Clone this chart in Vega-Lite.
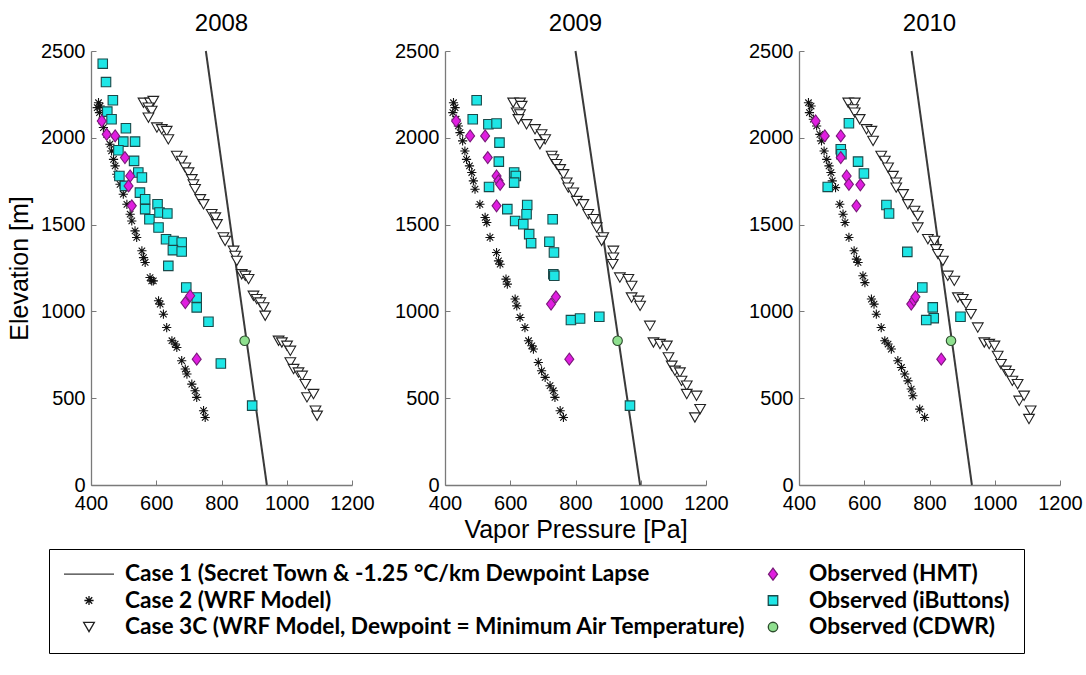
{
  "$schema": "https://vega.github.io/schema/vega-lite/v6.json",
  "padding": {"left": 7, "top": 12, "right": 0, "bottom": 0},
  "background": "white",
  "config": {
    "font": "Liberation Sans",
    "view": {"stroke": null},
    "axis": {
      "grid": false, "domainColor": "#7a7a7a", "domainWidth": 1.3, "tickColor": "#7a7a7a", "tickSize": -5,
      "labelFontSize": 20, "labelColor": "black", "labelFlush": false, "labelOverlap": false, "format": "d",
      "titleFontSize": 25, "titleFontWeight": "normal", "titleColor": "black"
    },
    "axisX": {"labelPadding": 13, "titlePadding": 4},
    "axisY": {"labelPadding": 11, "titlePadding": 8},
    "title": {"fontSize": 24, "fontWeight": "normal", "color": "black", "anchor": "middle", "frame": "group", "offset": 5},
    "legend": {
      "orient": "none", "legendX": -42, "legendY": 498, "columns": 2, "labelFont": "Lato", "labelFontSize": 22.7, "labelFontWeight": "bold",
      "labelColor": "black", "labelLimit": 1000, "strokeColor": "black", "fillColor": "white", "padding": 14,
      "clipHeight": 22, "rowPadding": 3.5, "columnPadding": 0, "labelOffset": 10, "symbolStrokeWidth": 1.3
    }
  },
  "datasets": {
    "d2008": [
      {"series":"c1","vp":939,"elev":0},{"series":"c1","vp":752,"elev":2500},
      {"series":"c2","vp":423,"elev":2202},{"series":"c2","vp":428,"elev":2183},{"series":"c2","vp":419,"elev":2174},{"series":"c2","vp":426,"elev":2145},{"series":"c2","vp":433,"elev":2097},{"series":"c2","vp":438,"elev":2059},{"series":"c2","vp":448,"elev":2020},{"series":"c2","vp":458,"elev":1963},{"series":"c2","vp":463,"elev":1924},{"series":"c2","vp":469,"elev":1876},{"series":"c2","vp":474,"elev":1838},{"series":"c2","vp":479,"elev":1790},{"series":"c2","vp":489,"elev":1732},{"series":"c2","vp":499,"elev":1675},{"series":"c2","vp":510,"elev":1617},{"series":"c2","vp":520,"elev":1560},{"series":"c2","vp":525,"elev":1521},{"series":"c2","vp":535,"elev":1464},{"series":"c2","vp":540,"elev":1426},{"series":"c2","vp":556,"elev":1349},{"series":"c2","vp":561,"elev":1310},{"series":"c2","vp":566,"elev":1282},{"series":"c2","vp":581,"elev":1195},{"series":"c2","vp":586,"elev":1176},{"series":"c2","vp":591,"elev":1176},{"series":"c2","vp":607,"elev":1061},{"series":"c2","vp":612,"elev":1042},{"series":"c2","vp":622,"elev":984},{"series":"c2","vp":632,"elev":907},{"series":"c2","vp":648,"elev":831},{"series":"c2","vp":658,"elev":812},{"series":"c2","vp":663,"elev":792},{"series":"c2","vp":678,"elev":716},{"series":"c2","vp":689,"elev":668},{"series":"c2","vp":694,"elev":639},{"series":"c2","vp":709,"elev":581},{"series":"c2","vp":719,"elev":543},{"series":"c2","vp":724,"elev":505},{"series":"c2","vp":745,"elev":428},{"series":"c2","vp":750,"elev":389},
      {"series":"c3","vp":561,"elev":2202},{"series":"c3","vp":581,"elev":2202},{"series":"c3","vp":591,"elev":2212},{"series":"c3","vp":576,"elev":2174},{"series":"c3","vp":586,"elev":2155},{"series":"c3","vp":576,"elev":2116},{"series":"c3","vp":602,"elev":2059},{"series":"c3","vp":617,"elev":2049},{"series":"c3","vp":632,"elev":2039},{"series":"c3","vp":637,"elev":1991},{"series":"c3","vp":663,"elev":1896},{"series":"c3","vp":678,"elev":1867},{"series":"c3","vp":689,"elev":1828},{"series":"c3","vp":699,"elev":1800},{"series":"c3","vp":709,"elev":1761},{"series":"c3","vp":714,"elev":1732},{"series":"c3","vp":719,"elev":1704},{"series":"c3","vp":735,"elev":1646},{"series":"c3","vp":745,"elev":1617},{"series":"c3","vp":770,"elev":1560},{"series":"c3","vp":781,"elev":1541},{"series":"c3","vp":786,"elev":1502},{"series":"c3","vp":806,"elev":1426},{"series":"c3","vp":811,"elev":1406},{"series":"c3","vp":837,"elev":1349},{"series":"c3","vp":842,"elev":1320},{"series":"c3","vp":847,"elev":1291},{"series":"c3","vp":862,"elev":1214},{"series":"c3","vp":873,"elev":1205},{"series":"c3","vp":883,"elev":1186},{"series":"c3","vp":898,"elev":1090},{"series":"c3","vp":908,"elev":1071},{"series":"c3","vp":919,"elev":1051},{"series":"c3","vp":929,"elev":1023},{"series":"c3","vp":934,"elev":975},{"series":"c3","vp":975,"elev":831},{"series":"c3","vp":985,"elev":821},{"series":"c3","vp":1001,"elev":802},{"series":"c3","vp":1011,"elev":773},{"series":"c3","vp":1011,"elev":706},{"series":"c3","vp":1021,"elev":668},{"series":"c3","vp":1036,"elev":648},{"series":"c3","vp":1047,"elev":629},{"series":"c3","vp":1057,"elev":581},{"series":"c3","vp":1062,"elev":505},{"series":"c3","vp":1082,"elev":524},{"series":"c3","vp":1088,"elev":428},{"series":"c3","vp":1093,"elev":399},
      {"series":"ib","vp":436,"elev":2427},{"series":"ib","vp":446,"elev":2321},{"series":"ib","vp":467,"elev":2216},{"series":"ib","vp":450,"elev":2151},{"series":"ib","vp":463,"elev":2107},{"series":"ib","vp":507,"elev":2055},{"series":"ib","vp":499,"elev":1978},{"series":"ib","vp":535,"elev":1978},{"series":"ib","vp":484,"elev":1928},{"series":"ib","vp":532,"elev":1867},{"series":"ib","vp":545,"elev":1800},{"series":"ib","vp":487,"elev":1780},{"series":"ib","vp":556,"elev":1771},{"series":"ib","vp":504,"elev":1723},{"series":"ib","vp":550,"elev":1684},{"series":"ib","vp":566,"elev":1646},{"series":"ib","vp":566,"elev":1589},{"series":"ib","vp":579,"elev":1531},{"series":"ib","vp":604,"elev":1617},{"series":"ib","vp":610,"elev":1570},{"series":"ib","vp":634,"elev":1564},{"series":"ib","vp":607,"elev":1483},{"series":"ib","vp":630,"elev":1416},{"series":"ib","vp":653,"elev":1406},{"series":"ib","vp":678,"elev":1397},{"series":"ib","vp":651,"elev":1353},{"series":"ib","vp":678,"elev":1345},{"series":"ib","vp":637,"elev":1262},{"series":"ib","vp":692,"elev":1138},{"series":"ib","vp":724,"elev":1080},{"series":"ib","vp":724,"elev":1023},{"series":"ib","vp":760,"elev":940},{"series":"ib","vp":798,"elev":700},{"series":"ib","vp":894,"elev":457},
      {"series":"hmt","vp":433,"elev":2097},{"series":"hmt","vp":448,"elev":2020},{"series":"hmt","vp":474,"elev":2011},{"series":"hmt","vp":504,"elev":1886},{"series":"hmt","vp":520,"elev":1780},{"series":"hmt","vp":515,"elev":1723},{"series":"hmt","vp":525,"elev":1608},{"series":"hmt","vp":689,"elev":1051},{"series":"hmt","vp":704,"elev":1090},{"series":"hmt","vp":724,"elev":725},
      {"series":"cdwr","vp":871,"elev":831}
    ],
    "d2009": [
      {"series":"c1","vp":998,"elev":0},{"series":"c1","vp":800,"elev":2500},
      {"series":"c2","vp":426,"elev":2202},{"series":"c2","vp":431,"elev":2174},{"series":"c2","vp":424,"elev":2145},{"series":"c2","vp":434,"elev":2107},{"series":"c2","vp":441,"elev":2068},{"series":"c2","vp":446,"elev":2030},{"series":"c2","vp":454,"elev":1982},{"series":"c2","vp":461,"elev":1924},{"series":"c2","vp":466,"elev":1876},{"series":"c2","vp":475,"elev":1838},{"series":"c2","vp":482,"elev":1800},{"series":"c2","vp":487,"elev":1752},{"series":"c2","vp":492,"elev":1704},{"series":"c2","vp":507,"elev":1617},{"series":"c2","vp":523,"elev":1541},{"series":"c2","vp":528,"elev":1512},{"series":"c2","vp":538,"elev":1426},{"series":"c2","vp":558,"elev":1339},{"series":"c2","vp":564,"elev":1291},{"series":"c2","vp":569,"elev":1272},{"series":"c2","vp":587,"elev":1186},{"series":"c2","vp":591,"elev":1157},{"series":"c2","vp":615,"elev":1071},{"series":"c2","vp":620,"elev":1032},{"series":"c2","vp":630,"elev":965},{"series":"c2","vp":645,"elev":907},{"series":"c2","vp":656,"elev":831},{"series":"c2","vp":666,"elev":802},{"series":"c2","vp":671,"elev":783},{"series":"c2","vp":686,"elev":706},{"series":"c2","vp":696,"elev":658},{"series":"c2","vp":707,"elev":620},{"series":"c2","vp":722,"elev":572},{"series":"c2","vp":732,"elev":543},{"series":"c2","vp":737,"elev":505},{"series":"c2","vp":753,"elev":428},{"series":"c2","vp":763,"elev":389},
      {"series":"c3","vp":609,"elev":2202},{"series":"c3","vp":630,"elev":2202},{"series":"c3","vp":635,"elev":2183},{"series":"c3","vp":620,"elev":2145},{"series":"c3","vp":630,"elev":2135},{"series":"c3","vp":625,"elev":2107},{"series":"c3","vp":650,"elev":2078},{"series":"c3","vp":676,"elev":2049},{"series":"c3","vp":696,"elev":2020},{"series":"c3","vp":707,"elev":1991},{"series":"c3","vp":691,"elev":1963},{"series":"c3","vp":727,"elev":1896},{"series":"c3","vp":732,"elev":1876},{"series":"c3","vp":742,"elev":1848},{"series":"c3","vp":753,"elev":1819},{"series":"c3","vp":763,"elev":1790},{"series":"c3","vp":773,"elev":1742},{"series":"c3","vp":778,"elev":1713},{"series":"c3","vp":793,"elev":1684},{"series":"c3","vp":804,"elev":1636},{"series":"c3","vp":824,"elev":1617},{"series":"c3","vp":839,"elev":1560},{"series":"c3","vp":855,"elev":1531},{"series":"c3","vp":865,"elev":1483},{"series":"c3","vp":885,"elev":1426},{"series":"c3","vp":880,"elev":1406},{"series":"c3","vp":916,"elev":1349},{"series":"c3","vp":916,"elev":1310},{"series":"c3","vp":914,"elev":1272},{"series":"c3","vp":936,"elev":1195},{"series":"c3","vp":962,"elev":1186},{"series":"c3","vp":972,"elev":1147},{"series":"c3","vp":972,"elev":1080},{"series":"c3","vp":993,"elev":1061},{"series":"c3","vp":998,"elev":1032},{"series":"c3","vp":1028,"elev":917},{"series":"c3","vp":1039,"elev":821},{"series":"c3","vp":1059,"elev":812},{"series":"c3","vp":1080,"elev":802},{"series":"c3","vp":1085,"elev":735},{"series":"c3","vp":1095,"elev":687},{"series":"c3","vp":1105,"elev":658},{"series":"c3","vp":1120,"elev":648},{"series":"c3","vp":1125,"elev":600},{"series":"c3","vp":1141,"elev":572},{"series":"c3","vp":1141,"elev":524},{"series":"c3","vp":1171,"elev":514},{"series":"c3","vp":1182,"elev":437},{"series":"c3","vp":1166,"elev":389},
      {"series":"ib","vp":497,"elev":2216},{"series":"ib","vp":485,"elev":2107},{"series":"ib","vp":533,"elev":2078},{"series":"ib","vp":558,"elev":2082},{"series":"ib","vp":567,"elev":1972},{"series":"ib","vp":565,"elev":1863},{"series":"ib","vp":612,"elev":1800},{"series":"ib","vp":617,"elev":1780},{"series":"ib","vp":612,"elev":1742},{"series":"ib","vp":535,"elev":1717},{"series":"ib","vp":652,"elev":1613},{"series":"ib","vp":591,"elev":1589},{"series":"ib","vp":615,"elev":1521},{"series":"ib","vp":650,"elev":1560},{"series":"ib","vp":640,"elev":1502},{"series":"ib","vp":730,"elev":1531},{"series":"ib","vp":658,"elev":1445},{"series":"ib","vp":664,"elev":1393},{"series":"ib","vp":720,"elev":1401},{"series":"ib","vp":734,"elev":1339},{"series":"ib","vp":732,"elev":1214},{"series":"ib","vp":735,"elev":1205},{"series":"ib","vp":786,"elev":950},{"series":"ib","vp":814,"elev":959},{"series":"ib","vp":873,"elev":969},{"series":"ib","vp":967,"elev":457},
      {"series":"hmt","vp":434,"elev":2097},{"series":"hmt","vp":477,"elev":2011},{"series":"hmt","vp":523,"elev":2011},{"series":"hmt","vp":531,"elev":1886},{"series":"hmt","vp":558,"elev":1780},{"series":"hmt","vp":564,"elev":1752},{"series":"hmt","vp":569,"elev":1732},{"series":"hmt","vp":558,"elev":1608},{"series":"hmt","vp":725,"elev":1042},{"series":"hmt","vp":740,"elev":1084},{"series":"hmt","vp":781,"elev":725},
      {"series":"cdwr","vp":929,"elev":831}
    ],
    "d2010": [
      {"series":"c1","vp":930,"elev":0},{"series":"c1","vp":745,"elev":2500},
      {"series":"c2","vp":429,"elev":2202},{"series":"c2","vp":437,"elev":2183},{"series":"c2","vp":432,"elev":2145},{"series":"c2","vp":444,"elev":2107},{"series":"c2","vp":454,"elev":2068},{"series":"c2","vp":464,"elev":2020},{"series":"c2","vp":469,"elev":1982},{"series":"c2","vp":477,"elev":1924},{"series":"c2","vp":485,"elev":1876},{"series":"c2","vp":492,"elev":1838},{"series":"c2","vp":498,"elev":1800},{"series":"c2","vp":502,"elev":1752},{"series":"c2","vp":512,"elev":1713},{"series":"c2","vp":525,"elev":1617},{"series":"c2","vp":535,"elev":1560},{"series":"c2","vp":541,"elev":1512},{"series":"c2","vp":553,"elev":1426},{"series":"c2","vp":569,"elev":1349},{"series":"c2","vp":576,"elev":1301},{"series":"c2","vp":581,"elev":1282},{"series":"c2","vp":596,"elev":1205},{"series":"c2","vp":602,"elev":1166},{"series":"c2","vp":622,"elev":1071},{"series":"c2","vp":630,"elev":1042},{"series":"c2","vp":637,"elev":984},{"series":"c2","vp":652,"elev":907},{"series":"c2","vp":663,"elev":831},{"series":"c2","vp":673,"elev":812},{"series":"c2","vp":683,"elev":783},{"series":"c2","vp":703,"elev":716},{"series":"c2","vp":714,"elev":677},{"series":"c2","vp":724,"elev":639},{"series":"c2","vp":734,"elev":600},{"series":"c2","vp":744,"elev":553},{"series":"c2","vp":749,"elev":514},{"series":"c2","vp":770,"elev":437},{"series":"c2","vp":785,"elev":389},
      {"series":"c3","vp":551,"elev":2202},{"series":"c3","vp":571,"elev":2202},{"series":"c3","vp":566,"elev":2164},{"series":"c3","vp":571,"elev":2145},{"series":"c3","vp":586,"elev":2107},{"series":"c3","vp":607,"elev":2049},{"series":"c3","vp":622,"elev":2039},{"series":"c3","vp":627,"elev":1982},{"series":"c3","vp":652,"elev":1896},{"series":"c3","vp":663,"elev":1867},{"series":"c3","vp":673,"elev":1828},{"series":"c3","vp":688,"elev":1780},{"series":"c3","vp":698,"elev":1742},{"series":"c3","vp":698,"elev":1713},{"series":"c3","vp":719,"elev":1675},{"series":"c3","vp":734,"elev":1617},{"series":"c3","vp":754,"elev":1579},{"series":"c3","vp":764,"elev":1550},{"series":"c3","vp":764,"elev":1483},{"series":"c3","vp":795,"elev":1416},{"series":"c3","vp":815,"elev":1406},{"series":"c3","vp":820,"elev":1358},{"series":"c3","vp":826,"elev":1330},{"series":"c3","vp":841,"elev":1291},{"series":"c3","vp":856,"elev":1205},{"series":"c3","vp":876,"elev":1176},{"series":"c3","vp":887,"elev":1080},{"series":"c3","vp":902,"elev":1071},{"series":"c3","vp":912,"elev":1042},{"series":"c3","vp":927,"elev":984},{"series":"c3","vp":948,"elev":907},{"series":"c3","vp":968,"elev":821},{"series":"c3","vp":983,"elev":812},{"series":"c3","vp":999,"elev":802},{"series":"c3","vp":1009,"elev":744},{"series":"c3","vp":1019,"elev":696},{"series":"c3","vp":1034,"elev":658},{"series":"c3","vp":1044,"elev":639},{"series":"c3","vp":1054,"elev":600},{"series":"c3","vp":1070,"elev":581},{"series":"c3","vp":1075,"elev":485},{"series":"c3","vp":1090,"elev":514},{"series":"c3","vp":1110,"elev":428},{"series":"c3","vp":1105,"elev":380},
      {"series":"ib","vp":553,"elev":2084},{"series":"ib","vp":528,"elev":1934},{"series":"ib","vp":530,"elev":1905},{"series":"ib","vp":581,"elev":1863},{"series":"ib","vp":599,"elev":1794},{"series":"ib","vp":488,"elev":1717},{"series":"ib","vp":668,"elev":1613},{"series":"ib","vp":676,"elev":1564},{"series":"ib","vp":732,"elev":1343},{"series":"ib","vp":778,"elev":1138},{"series":"ib","vp":810,"elev":1023},{"series":"ib","vp":813,"elev":961},{"series":"ib","vp":790,"elev":950},{"series":"ib","vp":895,"elev":969},
      {"series":"hmt","vp":451,"elev":2097},{"series":"hmt","vp":479,"elev":2011},{"series":"hmt","vp":528,"elev":2011},{"series":"hmt","vp":528,"elev":1886},{"series":"hmt","vp":546,"elev":1780},{"series":"hmt","vp":553,"elev":1732},{"series":"hmt","vp":588,"elev":1729},{"series":"hmt","vp":576,"elev":1608},{"series":"hmt","vp":744,"elev":1042},{"series":"hmt","vp":752,"elev":1065},{"series":"hmt","vp":757,"elev":1084},{"series":"hmt","vp":836,"elev":725},
      {"series":"cdwr","vp":866,"elev":831}
    ]
  },
  "spacing": 93,
  "bounds": "flush",
  "hconcat": [
    {
      "title": "2008", "width": 261, "height": 434,
      "data": {"name": "d2008"},
      "layer": [
        {"transform": [{"filter": "datum.series == 'c1'"}], "mark": {"type": "line", "color": "#3a3a3a", "strokeWidth": 2},
         "encoding": {"x": {"field": "vp", "type": "quantitative", "scale": {"domain": [400, 1200], "nice": false}, "axis": {"values": [400,600,800,1000,1200], "title": null}},
                      "y": {"field": "elev", "type": "quantitative", "scale": {"domain": [0, 2500], "nice": false}, "axis": {"values": [0,500,1000,1500,2000,2500], "title": "Elevation [m]"}}}},
        {"transform": [{"filter": "datum.series != 'c1'"}], "mark": {"type": "point", "opacity": 1, "strokeWidth": 1.1},
         "encoding": {"x": {"field": "vp", "type": "quantitative"}, "y": {"field": "elev", "type": "quantitative"},
           "shape": {"field": "series", "type": "nominal", "title": null, "legend": {"labelExpr": "{'c1':'Case 1 (Secret Town & -1.25 °C/km Dewpoint Lapse','hmt':'Observed (HMT)','c2':'Case 2 (WRF Model)','ib':'Observed (iButtons)','c3':'Case 3C (WRF Model, Dewpoint = Minimum Air Temperature)','cdwr':'Observed (CDWR)'}[datum.label]"},
             "scale": {"domain": ["c1","c2","c3","hmt","ib","cdwr"], "range": ["stroke", "M-1,0L1,0M0,-1L0,1M-0.7,-0.7L0.7,0.7M-0.7,0.7L0.7,-0.7", "triangle-down", "M0,-1L0.75,0L0,1L-0.75,0Z", "square", "circle"]}},
           "fill": {"field": "series", "type": "nominal", "title": null, "scale": {"domain": ["c1","c2","c3","hmt","ib","cdwr"], "range": ["transparent", "transparent", "white", "#e01ee0", "#1ee6e6", "#8fe08f"]}},
           "stroke": {"field": "series", "type": "nominal", "title": null, "scale": {"domain": ["c1","c2","c3","hmt","ib","cdwr"], "range": ["#3a3a3a", "#111111", "#222222", "#7a1a7a", "#1a4a4a", "#2d4d2d"]}},
           "size": {"field": "series", "type": "nominal", "title": null, "scale": {"type": "ordinal", "domain": ["c1","c2","c3","hmt","ib","cdwr"], "range": [2500, 85, 115, 144, 90, 90]}}
         }}
      ]
    },
    {
      "title": "2009", "width": 261, "height": 434,
      "data": {"name": "d2009"},
      "layer": [
        {"transform": [{"filter": "datum.series == 'c1'"}], "mark": {"type": "line", "color": "#3a3a3a", "strokeWidth": 2},
         "encoding": {"x": {"field": "vp", "type": "quantitative", "scale": {"domain": [400, 1200], "nice": false}, "axis": {"values": [400,600,800,1000,1200], "title": "Vapor Pressure [Pa]"}},
                      "y": {"field": "elev", "type": "quantitative", "scale": {"domain": [0, 2500], "nice": false}, "axis": {"values": [0,500,1000,1500,2000,2500], "title": null}}}},
        {"transform": [{"filter": "datum.series != 'c1'"}], "mark": {"type": "point", "opacity": 1, "strokeWidth": 1.1},
         "encoding": {"x": {"field": "vp", "type": "quantitative"}, "y": {"field": "elev", "type": "quantitative"},
           "shape": {"field": "series", "type": "nominal", "title": null,
             "scale": {"domain": ["c1","c2","c3","hmt","ib","cdwr"], "range": ["stroke", "M-1,0L1,0M0,-1L0,1M-0.7,-0.7L0.7,0.7M-0.7,0.7L0.7,-0.7", "triangle-down", "M0,-1L0.75,0L0,1L-0.75,0Z", "square", "circle"]}},
           "fill": {"field": "series", "type": "nominal", "title": null, "scale": {"domain": ["c1","c2","c3","hmt","ib","cdwr"], "range": ["transparent", "transparent", "white", "#e01ee0", "#1ee6e6", "#8fe08f"]}},
           "stroke": {"field": "series", "type": "nominal", "title": null, "scale": {"domain": ["c1","c2","c3","hmt","ib","cdwr"], "range": ["#3a3a3a", "#111111", "#222222", "#7a1a7a", "#1a4a4a", "#2d4d2d"]}},
           "size": {"field": "series", "type": "nominal", "title": null, "scale": {"type": "ordinal", "domain": ["c1","c2","c3","hmt","ib","cdwr"], "range": [2500, 85, 115, 144, 90, 90]}}
         }}
      ]
    },
    {
      "title": "2010", "width": 261, "height": 434,
      "data": {"name": "d2010"},
      "layer": [
        {"transform": [{"filter": "datum.series == 'c1'"}], "mark": {"type": "line", "color": "#3a3a3a", "strokeWidth": 2},
         "encoding": {"x": {"field": "vp", "type": "quantitative", "scale": {"domain": [400, 1200], "nice": false}, "axis": {"values": [400,600,800,1000,1200], "title": null}},
                      "y": {"field": "elev", "type": "quantitative", "scale": {"domain": [0, 2500], "nice": false}, "axis": {"values": [0,500,1000,1500,2000,2500], "title": null}}}},
        {"transform": [{"filter": "datum.series != 'c1'"}], "mark": {"type": "point", "opacity": 1, "strokeWidth": 1.1},
         "encoding": {"x": {"field": "vp", "type": "quantitative"}, "y": {"field": "elev", "type": "quantitative"},
           "shape": {"field": "series", "type": "nominal", "title": null,
             "scale": {"domain": ["c1","c2","c3","hmt","ib","cdwr"], "range": ["stroke", "M-1,0L1,0M0,-1L0,1M-0.7,-0.7L0.7,0.7M-0.7,0.7L0.7,-0.7", "triangle-down", "M0,-1L0.75,0L0,1L-0.75,0Z", "square", "circle"]}},
           "fill": {"field": "series", "type": "nominal", "title": null, "scale": {"domain": ["c1","c2","c3","hmt","ib","cdwr"], "range": ["transparent", "transparent", "white", "#e01ee0", "#1ee6e6", "#8fe08f"]}},
           "stroke": {"field": "series", "type": "nominal", "title": null, "scale": {"domain": ["c1","c2","c3","hmt","ib","cdwr"], "range": ["#3a3a3a", "#111111", "#222222", "#7a1a7a", "#1a4a4a", "#2d4d2d"]}},
           "size": {"field": "series", "type": "nominal", "title": null, "scale": {"type": "ordinal", "domain": ["c1","c2","c3","hmt","ib","cdwr"], "range": [2500, 85, 115, 144, 90, 90]}}
         }}
      ]
    }
  ]
}
